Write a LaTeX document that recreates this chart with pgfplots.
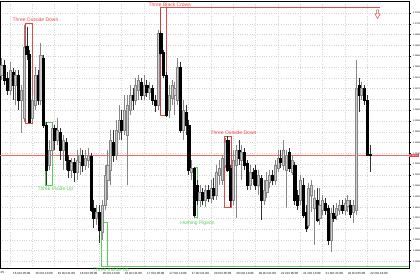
\documentclass[border=0pt]{standalone}
\usepackage{fontspec}
\setmainfont{Liberation Sans}
\usepackage{pgfplots}
\pgfplotsset{compat=1.18}
\usepackage{pgfplotstable}
\pgfdeclareplotmark{nothing}{}
\definecolor{patred}{RGB}{232,72,72}
\definecolor{patgreen}{RGB}{90,205,90}
\definecolor{bullfill}{RGB}{205,205,205}
\definecolor{bulldraw}{RGB}{135,135,135}
\definecolor{gridc}{RGB}{212,212,212}

\pgfplotstableread{
i o h l c
-3 193 210 188 203
-2 203 208 183 188
-1 190 196 173 178
0 178 206 173 198
1 196 200 168 183
2 183 198 163 193
3 193 198 158 168
4 168 183 135 178
5 150 243 146 221
6 222 241 208 214
7 214 218 145 146
8 150 173 146 168
9 163 201 158 193
10 193 198 163 168
11 168 225 163 213
12 210 213 140 143
13 143 146 83 98
14 103 128 98 118
15 118 146 113 140
16 140 143 118 128
17 128 150 123 138
18 136 140 108 118
19 118 133 98 128
20 126 130 98 108
21 108 113 90 98
22 98 110 90 106
23 106 110 86 96
24 96 118 88 108
25 106 120 93 113
26 113 118 96 103
27 103 118 98 110
28 108 120 100 113
29 112 115 56 58
30 60 68 40 50
31 50 63 43 56
32 56 63 25 38
33 36 68 28 63
34 63 103 58 93
35 88 118 68 103
36 98 138 83 128
37 126 138 106 113
38 113 148 108 138
39 136 163 128 148
40 148 158 128 138
41 138 173 133 158
42 133 173 83 163
43 158 183 153 173
44 173 180 158 168
45 168 190 163 183
46 178 193 168 188
47 186 190 168 173
48 173 193 168 183
49 183 188 171 176
50 176 186 168 180
51 180 183 163 168
52 168 173 156 163
53 163 238 158 235
54 235 237 213 215
55 216 218 190 193
56 193 196 151 153
57 158 183 150 173
58 170 188 163 183
59 173 186 153 180
60 168 210 163 201
61 201 206 135 138
62 138 168 128 158
63 156 163 133 143
64 143 148 93 98
65 96 108 88 100
66 100 101 51 53
67 83 88 63 68
68 68 83 61 76
69 76 80 63 68
70 68 83 61 78
71 78 83 66 70
72 70 88 65 80
73 80 90 68 73
74 73 103 68 96
75 93 108 83 100
76 88 113 83 110
77 103 130 100 126
78 128 132 96 98
79 100 103 61 68
80 68 118 63 108
81 103 123 50 118
82 118 128 103 110
83 108 123 88 116
84 116 120 98 103
85 105 108 78 83
86 83 103 78 96
87 96 100 83 90
88 98 103 78 83
89 83 98 73 93
90 90 93 48 68
91 68 88 63 78
92 76 96 70 88
93 86 98 80 93
94 93 98 83 88
95 88 108 83 103
96 100 118 96 110
97 110 118 100 106
98 103 128 98 118
99 98 118 60 113
100 116 120 96 100
101 96 113 93 108
102 103 106 63 68
103 73 78 58 63
104 68 93 63 88
105 83 90 50 53
106 56 63 36 40
107 43 85 40 80
108 73 88 56 83
109 60 78 23 70
110 68 80 46 48
111 50 80 43 63
112 58 73 53 68
113 65 70 53 58
114 60 63 23 28
115 28 60 16 55
116 55 63 46 50
117 53 65 48 60
118 58 68 53 63
119 63 68 54 58
120 58 70 53 65
121 62 73 56 68
122 63 68 50 54
123 56 68 45 63
124 58 208 53 180
125 183 190 156 173
126 173 186 168 180
127 180 183 163 168
128 168 173 112 113
129 114 123 96 113
}\candles

\begin{document}
\begin{tikzpicture}[x=1pt,y=1pt]
\useasboundingbox (0,0) rectangle (420,280);
\begin{axis}[
  at={(0,12)}, anchor=south west,
  scale only axis, width=409pt, height=267pt,
  xmin=-3.584, xmax=143.0, ymin=0, ymax=267,
  axis line style={black, line width=0.5pt},
  clip=false,
  xtick={0,8,16,24,32,40,48,56,64,72,80,88,96,104,112,120,128},
  xticklabels={15 Oct 05:00,15 Oct 13:00,15 Oct 21:00,16 Oct 05:00,16 Oct 13:00,16 Oct 21:00,17 Oct 05:00,17 Oct 13:00,17 Oct 21:00,20 Oct 05:00,20 Oct 13:00,20 Oct 21:00,21 Oct 05:00,21 Oct 13:00,21 Oct 21:00,22 Oct 05:00,22 Oct 13:00},
  ytick={6.6,17.4,28.2,39.0,49.8,60.6,71.4,82.2,93.0,103.8,114.6,125.4,136.2,147.0,157.8,168.6,179.4,190.2,201.0,211.8,222.6,233.4,244.2,255.0},
  yticklabels={1.15900,1.15950,1.16000,1.16050,1.16100,1.16150,1.16200,1.16250,1.16300,1.16350,1.16400,1.16450,1.16500,1.16550,1.16600,1.16650,1.16700,1.16750,1.16800,1.16850,1.16900,1.16950,1.17000,1.17050},
  yticklabel pos=right,
  ytick pos=right, xtick pos=bottom,
  tick align=outside, major tick length=1.5pt,
  tick style={black, line width=0.4pt},
  tick label style={font=\fontsize{3}{3.5}\selectfont, text=black},
  xticklabel style={anchor=north west, xshift=-0.3pt, yshift=0.5pt},
  yticklabel style={anchor=west, xshift=-1.2pt, font=\fontsize{2.3}{3}\selectfont},
  grid=major,
  major grid style={gridc, dotted, line width=0.35pt},
]
% current price line (drawn first, under the candles)
\addplot[red!60, line width=0.8pt, mark=none] coordinates {(-3.584,112.5) (143.0,112.5)};

% candlesticks
\addplot[only marks, mark=nothing, scatter,
  visualization depends on={\thisrow{c}-\thisrow{o} \as \blen},
  visualization depends on={\thisrow{h}-\thisrow{o} \as \hup},
  visualization depends on={\thisrow{l}-\thisrow{o} \as \ldn},
  scatter/@pre marker code/.code={%
    \pgfmathtruncatemacro\isbull{\blen>0}%
    \ifnum\isbull=1
      \draw[bulldraw, line width=0.45pt] (0pt,\ldn pt) -- (0pt,\hup pt);
      \filldraw[fill=bullfill, draw=bulldraw, line width=0.4pt] (-1.1pt,0pt) rectangle (1.1pt,\blen pt);
    \else
      \draw[black!80, line width=0.45pt] (0pt,\ldn pt) -- (0pt,\hup pt);
      \filldraw[fill=black, draw=black, line width=0.3pt] (-1.1pt,0pt) rectangle (1.1pt,\blen pt);
    \fi
  },
  scatter/@post marker code/.code={},
] table[x=i, y=o] {\candles};

% Three Outside Down (1)
\addplot[patred, line width=0.6pt] coordinates {(5.38,145) (5.38,245) (7.89,245) (7.89,145) (5.38,145)};
% Three Inside Up (1)
\addplot[patgreen, line width=0.6pt] coordinates {(12.54,83) (12.54,146) (15.05,146) (15.05,83) (12.54,83)};
% Three Inside Up (2)
\addplot[patgreen, line width=0.9pt] coordinates {(143.0,1.6) (32.6,1.6) (32.6,46) (34.8,46) (34.8,1.6)};
% Three Black Crows
\addplot[patred!85!black, line width=0.6pt] coordinates {(53.76,153) (53.76,261)};
\addplot[patred, line width=0.6pt] coordinates {(53.76,261) (132.6,261)};
\addplot[patred, line width=0.6pt] coordinates {(53.76,153) (55.91,153) (55.91,261)};
\addplot[patred, line width=0.5pt] coordinates {(131.4,258) (131.4,254) (130.8,254) (131.75,249.5) (132.7,254) (132.1,254) (132.1,258) (131.4,258)};
% Homing Pigeon
\addplot[patgreen, line width=0.6pt] coordinates {(65.95,51) (65.95,101) (67.03,101) (67.03,51) (65.95,51)};
% Three Outside Down (2)
\addplot[patred, line width=0.6pt] coordinates {(76.7,61) (76.7,132) (79.2,132) (79.2,61) (76.7,61)};

\begin{scope}[font=\fontsize{5}{6}\selectfont]
\node[text=patred, anchor=south west, inner sep=0.3pt] at (axis cs:0.72,245.5) {Three Outside Down};
\node[text=patgreen, anchor=north west, inner sep=0.3pt] at (axis cs:9.68,82) {Three Inside Up};
\node[text=patgreen, anchor=north west, inner sep=0.3pt] at (axis cs:29.7,0.5) {Three Inside Up};
\node[text=patred, anchor=south west, inner sep=0.3pt] at (axis cs:49.5,261.3) {Three Black Crows};
\node[text=patgreen, anchor=west, inner sep=0.3pt] at (axis cs:60.9,45) {Homing Pigeon};
\node[text=patred, anchor=south west, inner sep=0.3pt] at (axis cs:71.7,132.5) {Three Outside Down};
\end{scope}
\node[font=\fontsize{3}{3.5}\selectfont, anchor=north west, inner sep=0pt] at (axis cs:-3.4,-3.6) {25};
\node[fill=patred, text=white, font=\fontsize{2.3}{3}\selectfont, anchor=west, inner sep=0.5pt] at (axis cs:143.0,112.5) {1.16393};
\end{axis}
\end{tikzpicture}
\end{document}
